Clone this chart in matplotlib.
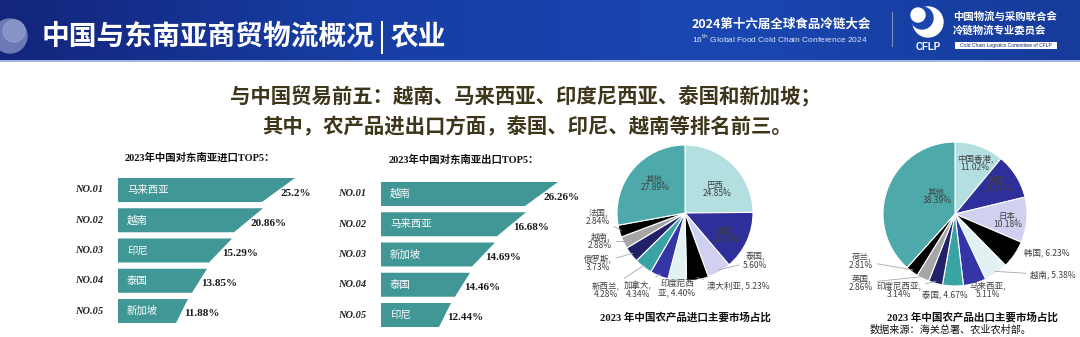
import numpy as np
import matplotlib.pyplot as plt
from matplotlib.patches import Circle, Rectangle, Polygon
from matplotlib.colors import LinearSegmentedColormap

W, H = 1080, 337
CJK = ['Noto Sans CJK SC', 'DejaVu Sans']
SERIF = ['Liberation Serif', 'Noto Sans CJK SC']
plt.rcParams['font.family'] = CJK

# ---- data ----
ranks = ['NO.01', 'NO.02', 'NO.03', 'NO.04', 'NO.05']
imp_names = ['马来西亚', '越南', '印尼', '泰国', '新加坡']
imp_share = [25.2, 20.86, 15.29, 13.85, 11.88]
exp_names = ['越南', '马来西亚', '新加坡', '泰国', '印尼']
exp_share = [26.26, 16.68, 14.69, 14.46, 12.44]

pie_in_names = ['巴西', '美国', '泰国', '澳大利亚', '印度尼西亚', '加拿大',
                '新西兰', '俄罗斯', '越南', '法国', '其他']
pie_in_vals = [24.85, 13.96, 5.60, 5.23, 4.40, 4.34, 4.28, 3.73, 2.88, 2.84, 27.89]
pie_out_names = ['中国香港', '美国', '日本', '韩国', '越南', '马来西亚',
                 '泰国', '印度尼西亚', '英国', '荷兰', '其他']
pie_out_vals = [11.02, 10.21, 10.18, 6.23, 5.38, 5.11, 4.67, 3.14, 2.86, 2.81, 38.39]

# ---- styles ----
TEAL = '#419696'
pie_colors = ['#b3dfe0', '#2f2f9c', '#d0d0f0', '#000000', '#e2f2f2', '#3535a8',
              '#3aa3a3', '#22226a', '#a6a6a6', '#000000', '#4eaaaa']

fig = plt.figure(figsize=(W / 100, H / 100), dpi=100)
ax = fig.add_axes([0, 0, 1, 1])


def Y(y):
    return H - y


# header band
hdr = LinearSegmentedColormap.from_list('hdr', ['#13257c', '#173ea4', '#1a47b2', '#163b9b'])
ax.imshow(np.linspace(0, 1, 256)[None, :], cmap=hdr, extent=(0, W, Y(60), H),
          aspect='auto', zorder=0)
ax.add_patch(Rectangle((0, Y(62)), W, 2, color='#a3b5de', lw=0, zorder=1))
ax.add_patch(Circle((10, Y(36)), 17, color='#6c79b6', zorder=1))
ax.add_patch(Circle((14, Y(31)), 11, color='#9aa5d2', zorder=1, alpha=0.6))

ax.text(42, Y(37), '中国与东南亚商贸物流概况', color='white', fontsize=20,
        fontweight='bold', va='center', zorder=2)
ax.add_patch(Rectangle((381, Y(54)), 2.2, 33, color='white', lw=0, zorder=2))
ax.text(391, Y(37), '农业', color='white', fontsize=20, fontweight='bold',
        va='center', zorder=2)

ax.text(692, Y(24), '2024第十六届全球食品冷链大会', color='white', fontsize=9,
        fontweight='bold', va='center', zorder=2)
ax.text(692, Y(39), '16$^{\\rm th}$ Global Food Cold Chain Conference 2024', color='#dfe5f6',
        fontsize=6, family='Liberation Sans', va='center', zorder=2)
ax.plot([892, 892], [Y(12), Y(46)], color='#7d8ec9', lw=0.8, zorder=2)
ax.add_patch(Circle((928, Y(22)), 15, color='white', zorder=2))
ax.add_patch(Circle((922, Y(18)), 11, color='#1a45ad', zorder=3))
ax.add_patch(Circle((918, Y(15)), 7, color='white', zorder=3))
ax.text(928, Y(47), 'CFLP', color='white', fontsize=7, fontweight='bold',
        family='Liberation Sans', ha='center', va='center', zorder=2)
ax.text(953, Y(17), '中国物流与采购联合会', color='white', fontsize=7.5,
        fontweight='bold', va='center', zorder=2)
ax.text(953, Y(31), '冷链物流专业委员会', color='white', fontsize=7.5,
        fontweight='bold', va='center', zorder=2)
ax.add_patch(Rectangle((955, Y(49)), 102, 7, color='white', lw=0, zorder=2))
ax.text(1006, Y(45.5), 'Cold Chain Logistics Committee of CFLP', color='#1b2a6e',
        fontsize=3.6, family='Liberation Sans', ha='center', va='center', zorder=3)

# subtitle
SUB = '#3d361b'
ax.text(525, Y(97), '与中国贸易前五：越南、马来西亚、印度尼西亚、泰国和新加坡；',
        color=SUB, fontsize=14.7, fontweight='bold', ha='center', va='center')
ax.text(527, Y(127), '其中，农产品进出口方面，泰国、印尼、越南等排名前三。',
        color=SUB, fontsize=14.7, fontweight='bold', ha='center', va='center')

# ---- tapered rank bars ----
top_len = [177, 145, 114, 89, 70]
slant = [33, 29, 23, 15, 12]


def rank_bars(xr, xl, y0, title, tx, ty, names, shares):
    ax.text(tx, Y(ty), title, family=SERIF, fontsize=7.5, fontweight='bold',
            ha='center', va='center', color='#111111')
    for i, (nm, v) in enumerate(zip(names, shares)):
        yc = y0 + i * 30.25
        t, b = Y(yc - 12), Y(yc + 12)
        ax.add_patch(Polygon([(xl, t), (xl + top_len[i], t),
                              (xl + top_len[i] - slant[i], b), (xl, b)],
                             closed=True, color=TEAL, lw=0))
        ax.text(xr, Y(yc), ranks[i], family='Liberation Serif', fontsize=7.5,
                fontweight='bold', style='italic', va='center', color='#222222')
        ax.text(xl + 9, Y(yc), nm, color='white', fontsize=7.5, va='center')
        ax.text(xl + top_len[i] - slant[i] / 2 + 2, Y(yc + 3), f'{v:g}%',
                family='Liberation Serif', fontsize=8, fontweight='bold',
                va='center', color='#1a1a1a')


rank_bars(75, 118, 190, '2023年中国对东南亚进口TOP5：', 200, 158, imp_names, imp_share)
rank_bars(338, 381, 194, '2023年中国对东南亚出口TOP5：', 464, 160, exp_names, exp_share)

# ---- pies ----
# label layout: (x, y, text mode, leader)
in_layout = [(717, 189, 0, 0), (725, 235, 0, 0), (755, 261, 0, 1), (738, 287, 1, 1),
             (677, 288, 2, 1), (638, 290, 0, 1), (606, 290, 0, 1), (598, 263, 0, 1),
             (600, 241, 0, 1), (598, 217, 0, 1), (655, 183, 0, 0)]
out_layout = [(975, 163, 0, 0), (997, 184, 0, 0), (1008, 220, 0, 0), (1047, 253, 1, 0),
              (1053, 275, 1, 1), (988, 290, 0, 0), (945, 296, 1, 0), (899, 290, 0, 1),
              (861, 283, 0, 1), (861, 261, 0, 1), (937, 196, 0, 0)]


def pie(cx, cy, r, names, vals, layout):
    wedges, _ = ax.pie(vals, colors=pie_colors, startangle=90, counterclock=False,
                       center=(cx, Y(cy)), radius=r,
                       wedgeprops=dict(edgecolor='white', linewidth=0.8))
    for w, nm, v, (lx, ly, mode, lead) in zip(wedges, names, vals, layout):
        if mode == 1:
            s = f'{nm}, {v:.2f}%'
        elif mode == 2:
            s = f'{nm[:4]}\n{nm[4:]}, {v:.2f}%'
        else:
            s = f'{nm},\n{v:.2f}%'
        ang = np.deg2rad((w.theta1 + w.theta2) / 2)
        tip = (cx + 0.97 * r * np.cos(ang), Y(cy) + 0.97 * r * np.sin(ang))
        kw = dict(arrowprops=dict(arrowstyle='-', color='#a8a8a8', lw=0.6,
                                  shrinkA=1, shrinkB=0)) if lead else {}
        ax.annotate(s, xy=tip, xytext=(lx, Y(ly)), fontsize=6.1, color='#404040',
                    ha='center', va='center', linespacing=1.05, zorder=5, **kw)


pie(685, 213, 68, pie_in_names, pie_in_vals, in_layout)
pie(955, 214, 72, pie_out_names, pie_out_vals, out_layout)

ax.text(685, Y(317), '2023 年中国农产品进口主要市场占比', family=SERIF, fontsize=7.6,
        fontweight='bold', ha='center', va='center', color='#111111')
ax.text(972, Y(317), '2023 年中国农产品出口主要市场占比', family=SERIF, fontsize=7.6,
        fontweight='bold', ha='center', va='center', color='#111111')
ax.text(951, Y(330), '数据来源：海关总署、农业农村部。', fontsize=7.3,
        ha='center', va='center', color='#111111')

ax.set_xlim(0, W)
ax.set_ylim(0, H)
ax.set_aspect('auto')
ax.axis('off')
fig.savefig('out.png', dpi=100, facecolor='white')
